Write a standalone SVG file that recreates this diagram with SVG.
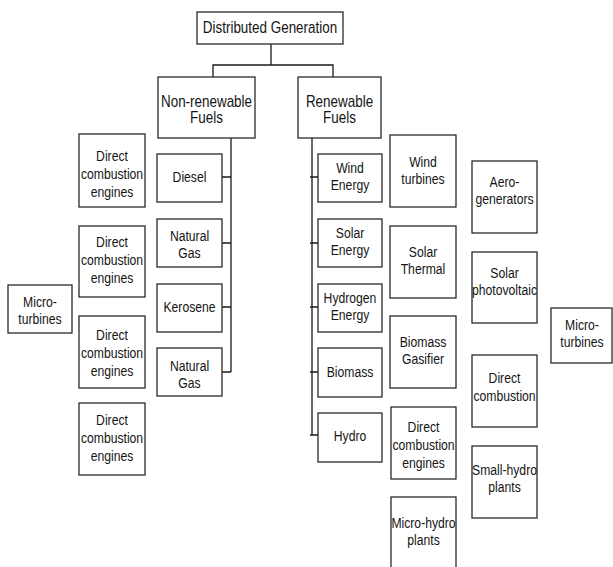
<svg xmlns="http://www.w3.org/2000/svg" width="613" height="567" viewBox="0 0 613 567">
<style>
rect{fill:#fff;stroke:#2a2a2a;stroke-width:1.3}
text{font-family:"Liberation Sans",Arial,sans-serif;font-size:14px;fill:#151515;text-anchor:middle}
text.big{font-size:16px}
#connectors line,#connectors path{stroke:#1a1a1a;stroke-width:1.3;fill:none}
</style>
<rect x="0" y="0" width="613" height="567" style="fill:#fff;stroke:none"/>
<g id="connectors">
<path d="M271 44V65M213 77V65H333V77"/>
<path d="M231 138V372M222 177H231M222 243H231M222 307H231M222 372H231"/>
<path d="M312 138V435M310 177H318M310 243H318M310 307H318M310 372H318M310 435H318"/>
</g>
<g id="dg"><rect x="197" y="12" width="146" height="32"/><text class="big" transform="translate(270 0) scale(0.84 1)"><tspan x="0" y="33">Distributed Generation</tspan></text></g>
<g id="nonrenewable"><rect x="158" y="77" width="97" height="61"/><text class="big" transform="translate(206.5 0) scale(0.84 1)"><tspan x="0" y="107">Non-renewable</tspan><tspan x="0" y="123">Fuels</tspan></text></g>
<g id="renewable"><rect x="298" y="77" width="83" height="61"/><text class="big" transform="translate(339.5 0) scale(0.84 1)"><tspan x="0" y="107">Renewable</tspan><tspan x="0" y="123">Fuels</tspan></text></g>

<g id="dce1"><rect x="79" y="134" width="66" height="73"/><text transform="translate(112 0) scale(0.87 1)"><tspan x="0" y="161">Direct</tspan><tspan x="0" y="179">combustion</tspan><tspan x="0" y="197">engines</tspan></text></g>
<g id="dce2"><rect x="79" y="226" width="66" height="71"/><text transform="translate(112 0) scale(0.87 1)"><tspan x="0" y="247">Direct</tspan><tspan x="0" y="265">combustion</tspan><tspan x="0" y="283">engines</tspan></text></g>
<g id="dce3"><rect x="79" y="316" width="66" height="72"/><text transform="translate(112 0) scale(0.87 1)"><tspan x="0" y="340">Direct</tspan><tspan x="0" y="358">combustion</tspan><tspan x="0" y="376">engines</tspan></text></g>
<g id="dce4"><rect x="79" y="403" width="66" height="72"/><text transform="translate(112 0) scale(0.87 1)"><tspan x="0" y="425">Direct</tspan><tspan x="0" y="443">combustion</tspan><tspan x="0" y="461">engines</tspan></text></g>
<g id="microturbines-left"><rect x="8" y="285" width="64" height="48"/><text transform="translate(40 0) scale(0.87 1)"><tspan x="0" y="307">Micro-</tspan><tspan x="0" y="324">turbines</tspan></text></g>

<g id="diesel"><rect x="157" y="154" width="65" height="48"/><text transform="translate(189.5 0) scale(0.87 1)"><tspan x="0" y="182">Diesel</tspan></text></g>
<g id="natgas1"><rect x="157" y="219" width="65" height="48"/><text transform="translate(189.5 0) scale(0.87 1)"><tspan x="0" y="241">Natural</tspan><tspan x="0" y="258">Gas</tspan></text></g>
<g id="kerosene"><rect x="157" y="284" width="65" height="48"/><text transform="translate(189.5 0) scale(0.87 1)"><tspan x="0" y="312">Kerosene</tspan></text></g>
<g id="natgas2"><rect x="157" y="348" width="65" height="48"/><text transform="translate(189.5 0) scale(0.87 1)"><tspan x="0" y="371">Natural</tspan><tspan x="0" y="388">Gas</tspan></text></g>

<g id="wind"><rect x="318" y="154" width="64" height="48"/><text transform="translate(350 0) scale(0.87 1)"><tspan x="0" y="173">Wind</tspan><tspan x="0" y="190">Energy</tspan></text></g>
<g id="solar"><rect x="318" y="219" width="64" height="48"/><text transform="translate(350 0) scale(0.87 1)"><tspan x="0" y="238">Solar</tspan><tspan x="0" y="255">Energy</tspan></text></g>
<g id="hydrogen"><rect x="318" y="284" width="64" height="48"/><text transform="translate(350 0) scale(0.87 1)"><tspan x="0" y="303">Hydrogen</tspan><tspan x="0" y="320">Energy</tspan></text></g>
<g id="biomass"><rect x="318" y="348" width="64" height="49"/><text transform="translate(350 0) scale(0.87 1)"><tspan x="0" y="377">Biomass</tspan></text></g>
<g id="hydro"><rect x="318" y="413" width="64" height="49"/><text transform="translate(350 0) scale(0.87 1)"><tspan x="0" y="441">Hydro</tspan></text></g>

<g id="windturbines"><rect x="390" y="135" width="66" height="72"/><text transform="translate(423 0) scale(0.87 1)"><tspan x="0" y="167">Wind</tspan><tspan x="0" y="184">turbines</tspan></text></g>
<g id="solarthermal"><rect x="390" y="226" width="66" height="72"/><text transform="translate(423 0) scale(0.87 1)"><tspan x="0" y="257">Solar</tspan><tspan x="0" y="274">Thermal</tspan></text></g>
<g id="biomassgasifier"><rect x="390" y="316" width="66" height="72"/><text transform="translate(423 0) scale(0.87 1)"><tspan x="0" y="347">Biomass</tspan><tspan x="0" y="364">Gasifier</tspan></text></g>
<g id="dce5"><rect x="391" y="407" width="65" height="72"/><text transform="translate(423.5 0) scale(0.87 1)"><tspan x="0" y="432">Direct</tspan><tspan x="0" y="450">combustion</tspan><tspan x="0" y="468">engines</tspan></text></g>
<g id="microhydro"><rect x="391" y="497" width="65" height="80"/><text transform="translate(423.5 0) scale(0.87 1)"><tspan x="0" y="528">Micro-hydro</tspan><tspan x="0" y="545">plants</tspan></text></g>

<g id="aero"><rect x="472" y="161" width="65" height="72"/><text transform="translate(504.5 0) scale(0.87 1)"><tspan x="0" y="187">Aero-</tspan><tspan x="0" y="204">generators</tspan></text></g>
<g id="pv"><rect x="472" y="252" width="65" height="71"/><text transform="translate(504.5 0) scale(0.87 1)"><tspan x="0" y="278">Solar</tspan><tspan x="0" y="295">photovoltaic</tspan></text></g>
<g id="directcomb"><rect x="472" y="355" width="65" height="72"/><text transform="translate(504.5 0) scale(0.87 1)"><tspan x="0" y="383">Direct</tspan><tspan x="0" y="401">combustion</tspan></text></g>
<g id="smallhydro"><rect x="472" y="446" width="65" height="72"/><text transform="translate(504.5 0) scale(0.87 1)"><tspan x="0" y="475">Small-hydro</tspan><tspan x="0" y="492">plants</tspan></text></g>
<g id="microturbines-right"><rect x="551" y="308" width="61" height="55"/><text transform="translate(582 0) scale(0.87 1)"><tspan x="0" y="330">Micro-</tspan><tspan x="0" y="347">turbines</tspan></text></g>
</svg>
